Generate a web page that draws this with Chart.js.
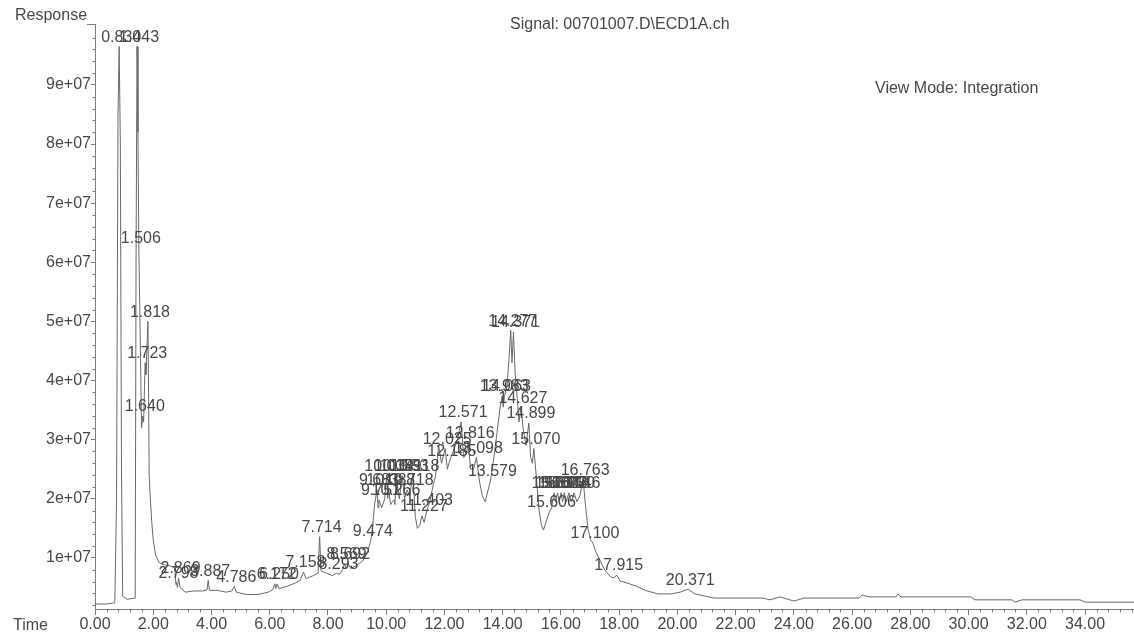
<!DOCTYPE html>
<html>
<head>
<meta charset="utf-8">
<script src="https://cdn.jsdelivr.net/npm/chart.js@4.4.1/dist/chart.umd.min.js"></script>
<style>
  html, body { margin: 0; padding: 0; background: #ffffff; }
  #wrap { width: 1134px; height: 641px; }
</style>
</head>
<body>
<div id="wrap"><canvas id="c" width="1134" height="641"></canvas></div>
<script>
// ---- Data (time in min, response in counts) ----
const times = [
  0.00, 0.40, 0.68, 0.74, 0.79, 0.830, 0.87, 0.91, 0.95, 1.10, 1.38, 1.41, 1.443, 1.475, 1.506,
  1.55, 1.60, 1.640, 1.67, 1.70, 1.723, 1.75, 1.78, 1.818, 1.84, 1.86, 1.90, 1.95, 2.00, 2.08,
  2.20, 2.40, 2.60, 2.74, 2.78, 2.798, 2.83, 2.869, 2.92, 3.10, 3.40, 3.70, 3.85, 3.887, 3.93,
  4.20, 4.50, 4.70, 4.786, 4.85, 5.20, 5.60, 5.95, 6.10, 6.172, 6.21, 6.250, 6.32, 6.60, 6.90,
  7.05, 7.158, 7.25, 7.50, 7.66, 7.714, 7.76, 7.95, 8.15, 8.293, 8.40, 8.50, 8.569, 8.63, 8.692,
  8.78, 9.00, 9.20, 9.36, 9.474, 9.53, 9.60, 9.683, 9.72, 9.751, 9.85, 9.95, 10.018, 10.05, 10.088,
  10.15, 10.21, 10.266, 10.30, 10.341, 10.45, 10.553, 10.63, 10.718, 10.80, 10.918, 11.00, 11.07, 11.15, 11.227,
  11.30, 11.403, 11.50, 11.60, 11.70, 11.80, 11.90, 12.025, 12.10, 12.185, 12.30, 12.45, 12.571, 12.66, 12.75,
  12.816, 12.90, 13.00, 13.098, 13.20, 13.30, 13.40, 13.50, 13.579, 13.70, 13.80, 13.90, 13.983, 14.02, 14.063,
  14.15, 14.22, 14.277, 14.32, 14.371, 14.43, 14.50, 14.56, 14.627, 14.70, 14.80, 14.899, 14.96, 15.02, 15.070,
  15.15, 15.25, 15.33, 15.40, 15.50, 15.606, 15.68, 15.764, 15.82, 15.885, 15.94, 16.003, 16.06, 16.118, 16.19,
  16.270, 16.36, 16.446, 16.55, 16.65, 16.763, 16.84, 16.93, 17.02, 17.100, 17.20, 17.35, 17.50, 17.70, 17.83,
  17.915, 18.03, 18.30, 18.60, 18.90, 19.33, 19.78, 20.10, 20.371, 20.60, 21.26, 22.94, 23.18, 23.52, 24.00,
  24.35, 26.24, 26.34, 26.58, 27.50, 27.57, 27.68, 30.08, 30.22, 31.49, 31.59, 31.83, 33.83, 34.00, 35.68
];
const responses = [
  0.22e7, 0.22e7, 0.24e7, 2.0e7, 8.5e7, 9.65e7, 8.0e7, 2.5e7, 0.35e7, 0.30e7, 0.32e7, 6.0e7, 9.65e7, 8.2e7, 6.25e7,
  4.8e7, 3.2e7, 3.4e7, 3.3e7, 3.9e7, 4.3e7, 4.1e7, 4.5e7, 5.0e7, 3.8e7, 2.4e7, 2.0e7, 1.6e7, 1.3e7, 1.05e7,
  0.92e7, 0.88e7, 0.86e7, 0.83e7, 0.55e7, 0.58e7, 0.50e7, 0.66e7, 0.50e7, 0.42e7, 0.44e7, 0.44e7, 0.46e7, 0.62e7, 0.45e7,
  0.45e7, 0.42e7, 0.44e7, 0.52e7, 0.42e7, 0.38e7, 0.38e7, 0.42e7, 0.46e7, 0.56e7, 0.48e7, 0.56e7, 0.48e7, 0.52e7, 0.58e7,
  0.62e7, 0.76e7, 0.65e7, 0.70e7, 0.74e7, 1.36e7, 0.78e7, 0.74e7, 0.70e7, 0.74e7, 0.72e7, 0.80e7, 0.90e7, 0.82e7, 0.90e7,
  0.82e7, 0.88e7, 0.95e7, 1.10e7, 1.30e7, 1.50e7, 1.90e7, 2.15e7, 1.85e7, 1.98e7, 1.85e7, 2.00e7, 2.39e7, 2.00e7, 2.15e7,
  1.90e7, 1.95e7, 1.98e7, 1.90e7, 2.39e7, 2.00e7, 2.39e7, 2.00e7, 2.15e7, 2.05e7, 2.39e7, 1.70e7, 1.50e7, 1.55e7, 1.71e7,
  1.60e7, 1.81e7, 1.95e7, 2.20e7, 2.40e7, 2.90e7, 2.60e7, 2.85e7, 2.50e7, 2.65e7, 2.80e7, 3.00e7, 3.30e7, 2.70e7, 2.75e7,
  2.95e7, 2.50e7, 2.50e7, 2.70e7, 2.30e7, 2.05e7, 1.95e7, 2.15e7, 2.30e7, 2.70e7, 3.10e7, 3.50e7, 3.74e7, 3.55e7, 3.74e7,
  3.90e7, 4.40e7, 4.85e7, 4.30e7, 4.82e7, 4.10e7, 3.70e7, 3.30e7, 3.55e7, 3.20e7, 2.90e7, 3.28e7, 2.70e7, 2.60e7, 2.85e7,
  2.40e7, 1.80e7, 1.55e7, 1.47e7, 1.62e7, 1.78e7, 1.85e7, 2.10e7, 1.95e7, 2.10e7, 1.95e7, 2.10e7, 1.95e7, 2.10e7, 1.95e7,
  2.10e7, 1.95e7, 2.10e7, 1.95e7, 2.05e7, 2.32e7, 1.90e7, 1.50e7, 1.30e7, 1.25e7, 1.10e7, 0.95e7, 0.80e7, 0.68e7, 0.66e7,
  0.71e7, 0.61e7, 0.57e7, 0.52e7, 0.45e7, 0.39e7, 0.39e7, 0.42e7, 0.47e7, 0.39e7, 0.32e7, 0.32e7, 0.29e7, 0.34e7, 0.27e7,
  0.32e7, 0.32e7, 0.37e7, 0.34e7, 0.34e7, 0.39e7, 0.34e7, 0.34e7, 0.29e7, 0.29e7, 0.25e7, 0.29e7, 0.29e7, 0.25e7, 0.25e7
];
// integrated peaks: retention time labels (each is an apex in the trace above)
const peakLabels = [
  "0.830", "1.443", "1.506", "1.640", "1.723", "1.818", "2.798", "2.869", "3.887", "4.786",
  "6.172", "6.250", "7.158", "7.714", "8.293", "8.569", "8.692", "9.474", "9.683", "9.751",
  "10.018", "10.088", "10.266", "10.341", "10.553", "10.718", "10.918", "11.227", "11.403",
  "12.025", "12.185", "12.571", "12.816", "13.098", "13.579", "13.983", "14.063", "14.277", "14.371",
  "14.627", "14.899", "15.070", "15.606", "15.764", "15.885", "16.003", "16.118", "16.270", "16.446",
  "16.763", "17.100", "17.915", "20.371"
];
const xTickValues = [0, 2, 4, 6, 8, 10, 12, 14, 16, 18, 20, 22, 24, 26, 28, 30, 32, 34];
const yTickValues = [1e7, 2e7, 3e7, 4e7, 5e7, 6e7, 7e7, 8e7, 9e7];
const signalTitle = "Signal: 00701007.D\\ECD1A.ch";
const viewModeText = "View Mode: Integration";
const yAxisTitle = "Response";
const xAxisTitle = "Time";

const FONT = "'Liberation Sans', Arial, Helvetica, sans-serif";
const TXT = '#474747';
const AXC = '#7a7a7a';

const points = times.map((t, i) => ({ x: t, y: responses[i] }));

const decorPlugin = {
  id: 'decor',
  afterDraw(chart) {
    const ctx = chart.ctx;
    const xs = chart.scales.x, ys = chart.scales.y;
    const area = chart.chartArea;
    ctx.save();
    ctx.strokeStyle = AXC;
    ctx.lineWidth = 1;
    // minor ticks x
    ctx.beginPath();
    for (let k = 0; k * 0.4 <= xs.max; k++) {
      if (k % 5 === 0) continue;
      const px = Math.round(xs.getPixelForValue(k * 0.4)) + 0.5;
      ctx.moveTo(px, area.bottom + 0.5);
      ctx.lineTo(px, area.bottom + 3.5);
    }
    // minor ticks y
    for (let k = 1; k * 2e6 <= ys.max; k++) {
      if (k % 5 === 0) continue;
      const py = Math.round(ys.getPixelForValue(k * 2e6)) + 0.5;
      ctx.moveTo(area.left - 2.5, py);
      ctx.lineTo(area.left + 0.5, py);
    }
    // top bracket of y axis
    ctx.moveTo(area.left - 8, area.top + 0.5);
    ctx.lineTo(area.left + 0.5, area.top + 0.5);
    ctx.stroke();

    // peak labels
    ctx.fillStyle = TXT;
    ctx.font = '16px ' + FONT;
    ctx.textAlign = 'center';
    ctx.textBaseline = 'bottom';
    peakLabels.forEach(lbl => {
      const t = parseFloat(lbl);
      const i = times.indexOf(t);
      if (i < 0) return;
      const px = xs.getPixelForValue(t);
      const py = ys.getPixelForValue(responses[i]);
      ctx.fillText(lbl, px + 2, py - 1);
    });

    // texts
    ctx.font = '16px ' + FONT;
    ctx.textAlign = 'left';
    ctx.textBaseline = 'middle';
    ctx.fillText(yAxisTitle, 15, 16);
    ctx.fillText(xAxisTitle, 13, 626);
    ctx.fillText(signalTitle, 510, 25);
    ctx.fillText(viewModeText, 875, 89);
    ctx.restore();
  }
};

new Chart(document.getElementById('c'), {
  type: 'line',
  data: {
    datasets: [{
      data: points,
      borderColor: '#686868',
      borderWidth: 1,
      pointRadius: 0,
      tension: 0,
      fill: false
    }]
  },
  options: {
    responsive: false,
    animation: false,
    events: [],
    layout: { padding: { top: 24, left: 0, right: 0, bottom: 0 } },
    plugins: { legend: { display: false }, tooltip: { enabled: false }, title: { display: false } },
    scales: {
      x: {
        type: 'linear',
        min: 0,
        max: 35.68,
        afterBuildTicks: s => { s.ticks = xTickValues.map(v => ({ value: v })); },
        afterFit: s => { s.height = 32; },
        grid: { drawOnChartArea: false, drawTicks: true, tickLength: 6, color: AXC },
        border: { display: true, color: AXC, width: 1 },
        ticks: {
          color: TXT,
          font: { family: FONT, size: 16 },
          padding: 0,
          maxRotation: 0,
          autoSkip: false,
          callback: v => Number(v).toFixed(2)
        }
      },
      y: {
        type: 'linear',
        min: 1.35e6,
        max: 1.003e8,
        afterBuildTicks: s => { s.ticks = yTickValues.map(v => ({ value: v })); },
        afterFit: s => { s.width = 95; },
        grid: { drawOnChartArea: false, drawTicks: true, tickLength: 4, color: AXC },
        border: { display: true, color: AXC, width: 1 },
        ticks: {
          color: TXT,
          font: { family: FONT, size: 16 },
          padding: 0,
          autoSkip: false,
          callback: v => (v / 1e7) + 'e+07'
        }
      }
    }
  },
  plugins: [decorPlugin]
});
</script>
</body>
</html>
